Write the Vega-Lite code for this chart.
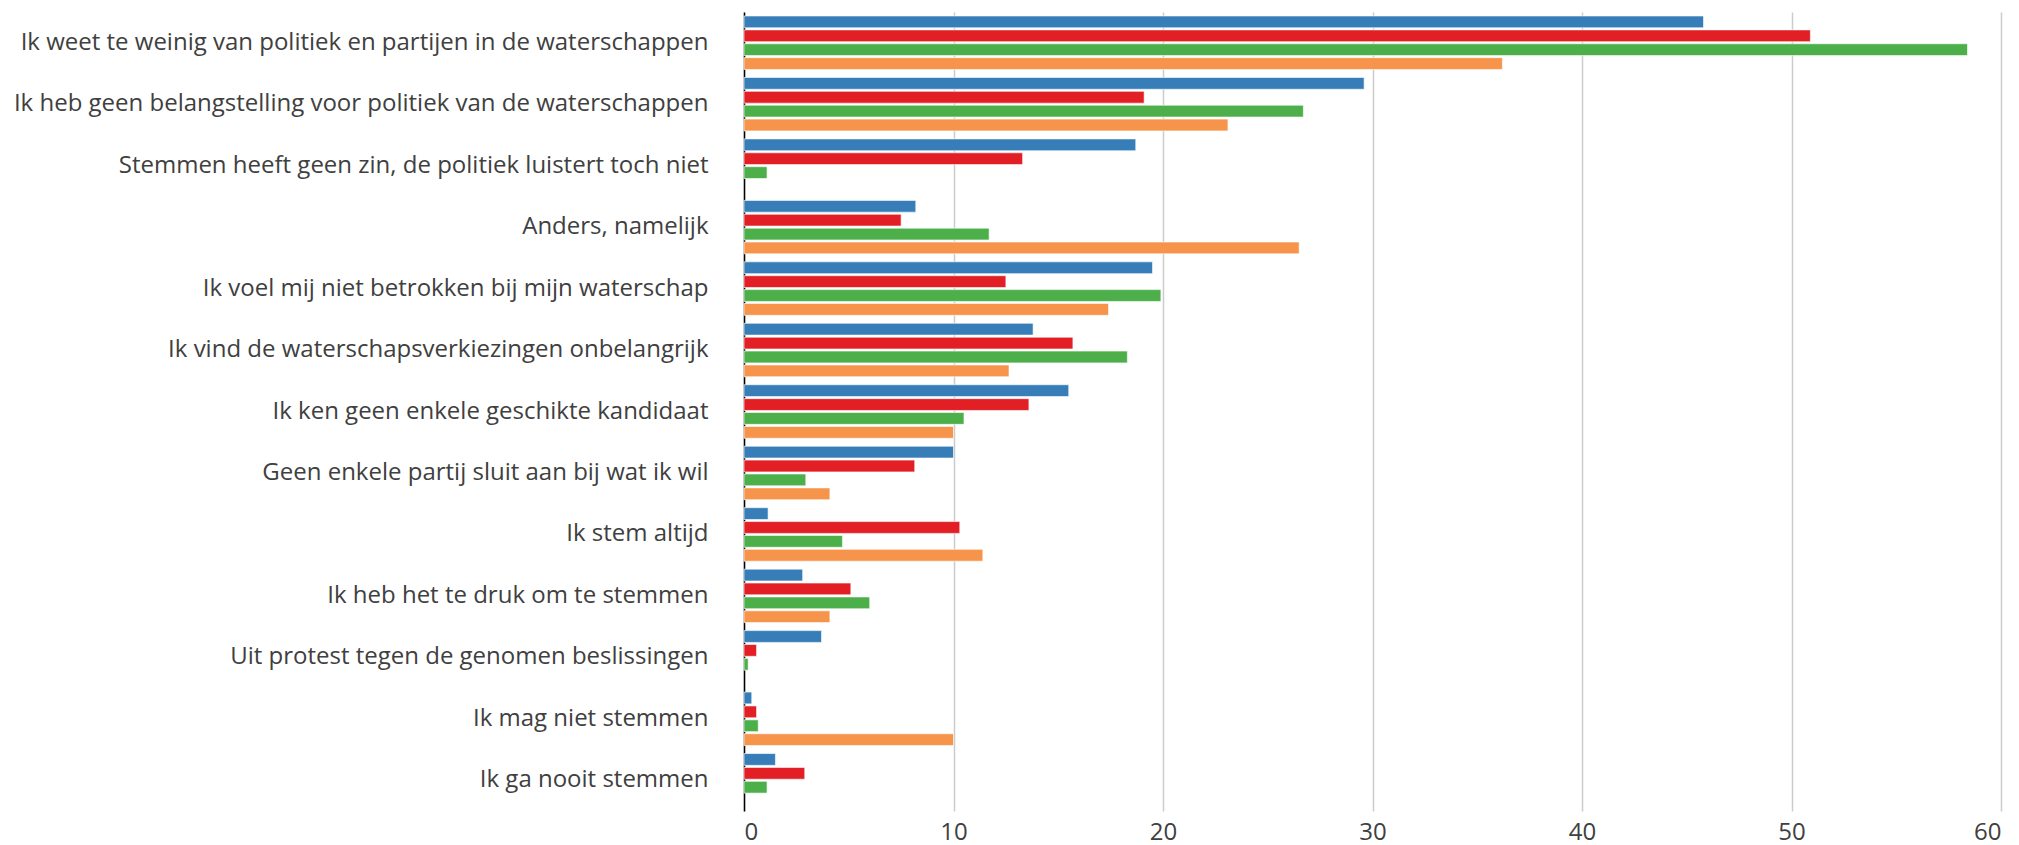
{
  "$schema": "https://vega.github.io/schema/vega-lite/v6.json",
  "description": "Redenen om niet te stemmen bij de waterschapsverkiezingen",
  "width": 1257,
  "height": 799,
  "autosize": "none",
  "padding": {"left": 744, "top": 12, "right": 18, "bottom": 34},
  "config": {"font": "Open Sans", "view": {"stroke": null}},
  "data": {
    "values": [
      {"reden": "Ik weet te weinig van politiek en partijen in de waterschappen", "groep": "Groep 1", "percentage": 45.8},
      {"reden": "Ik weet te weinig van politiek en partijen in de waterschappen", "groep": "Groep 2", "percentage": 50.9},
      {"reden": "Ik weet te weinig van politiek en partijen in de waterschappen", "groep": "Groep 3", "percentage": 58.4},
      {"reden": "Ik weet te weinig van politiek en partijen in de waterschappen", "groep": "Groep 4", "percentage": 36.2},
      {"reden": "Ik heb geen belangstelling voor politiek van de waterschappen", "groep": "Groep 1", "percentage": 29.6},
      {"reden": "Ik heb geen belangstelling voor politiek van de waterschappen", "groep": "Groep 2", "percentage": 19.1},
      {"reden": "Ik heb geen belangstelling voor politiek van de waterschappen", "groep": "Groep 3", "percentage": 26.7},
      {"reden": "Ik heb geen belangstelling voor politiek van de waterschappen", "groep": "Groep 4", "percentage": 23.1},
      {"reden": "Stemmen heeft geen zin, de politiek luistert toch niet", "groep": "Groep 1", "percentage": 18.7},
      {"reden": "Stemmen heeft geen zin, de politiek luistert toch niet", "groep": "Groep 2", "percentage": 13.3},
      {"reden": "Stemmen heeft geen zin, de politiek luistert toch niet", "groep": "Groep 3", "percentage": 1.1},
      {"reden": "Anders, namelijk", "groep": "Groep 1", "percentage": 8.2},
      {"reden": "Anders, namelijk", "groep": "Groep 2", "percentage": 7.5},
      {"reden": "Anders, namelijk", "groep": "Groep 3", "percentage": 11.7},
      {"reden": "Anders, namelijk", "groep": "Groep 4", "percentage": 26.5},
      {"reden": "Ik voel mij niet betrokken bij mijn waterschap", "groep": "Groep 1", "percentage": 19.5},
      {"reden": "Ik voel mij niet betrokken bij mijn waterschap", "groep": "Groep 2", "percentage": 12.5},
      {"reden": "Ik voel mij niet betrokken bij mijn waterschap", "groep": "Groep 3", "percentage": 19.9},
      {"reden": "Ik voel mij niet betrokken bij mijn waterschap", "groep": "Groep 4", "percentage": 17.4},
      {"reden": "Ik vind de waterschapsverkiezingen onbelangrijk", "groep": "Groep 1", "percentage": 13.8},
      {"reden": "Ik vind de waterschapsverkiezingen onbelangrijk", "groep": "Groep 2", "percentage": 15.7},
      {"reden": "Ik vind de waterschapsverkiezingen onbelangrijk", "groep": "Groep 3", "percentage": 18.3},
      {"reden": "Ik vind de waterschapsverkiezingen onbelangrijk", "groep": "Groep 4", "percentage": 12.65},
      {"reden": "Ik ken geen enkele geschikte kandidaat", "groep": "Groep 1", "percentage": 15.5},
      {"reden": "Ik ken geen enkele geschikte kandidaat", "groep": "Groep 2", "percentage": 13.6},
      {"reden": "Ik ken geen enkele geschikte kandidaat", "groep": "Groep 3", "percentage": 10.5},
      {"reden": "Ik ken geen enkele geschikte kandidaat", "groep": "Groep 4", "percentage": 10.0},
      {"reden": "Geen enkele partij sluit aan bij wat ik wil", "groep": "Groep 1", "percentage": 10.0},
      {"reden": "Geen enkele partij sluit aan bij wat ik wil", "groep": "Groep 2", "percentage": 8.15},
      {"reden": "Geen enkele partij sluit aan bij wat ik wil", "groep": "Groep 3", "percentage": 2.95},
      {"reden": "Geen enkele partij sluit aan bij wat ik wil", "groep": "Groep 4", "percentage": 4.1},
      {"reden": "Ik stem altijd", "groep": "Groep 1", "percentage": 1.15},
      {"reden": "Ik stem altijd", "groep": "Groep 2", "percentage": 10.3},
      {"reden": "Ik stem altijd", "groep": "Groep 3", "percentage": 4.7},
      {"reden": "Ik stem altijd", "groep": "Groep 4", "percentage": 11.4},
      {"reden": "Ik heb het te druk om te stemmen", "groep": "Groep 1", "percentage": 2.8},
      {"reden": "Ik heb het te druk om te stemmen", "groep": "Groep 2", "percentage": 5.1},
      {"reden": "Ik heb het te druk om te stemmen", "groep": "Groep 3", "percentage": 6.0},
      {"reden": "Ik heb het te druk om te stemmen", "groep": "Groep 4", "percentage": 4.1},
      {"reden": "Uit protest tegen de genomen beslissingen", "groep": "Groep 1", "percentage": 3.7},
      {"reden": "Uit protest tegen de genomen beslissingen", "groep": "Groep 2", "percentage": 0.6},
      {"reden": "Uit protest tegen de genomen beslissingen", "groep": "Groep 3", "percentage": 0.2},
      {"reden": "Ik mag niet stemmen", "groep": "Groep 1", "percentage": 0.37},
      {"reden": "Ik mag niet stemmen", "groep": "Groep 2", "percentage": 0.6},
      {"reden": "Ik mag niet stemmen", "groep": "Groep 3", "percentage": 0.68},
      {"reden": "Ik mag niet stemmen", "groep": "Groep 4", "percentage": 10.0},
      {"reden": "Ik ga nooit stemmen", "groep": "Groep 1", "percentage": 1.5},
      {"reden": "Ik ga nooit stemmen", "groep": "Groep 2", "percentage": 2.9},
      {"reden": "Ik ga nooit stemmen", "groep": "Groep 3", "percentage": 1.1}
    ]
  },
  "mark": {"type": "bar", "stroke": "white", "strokeOpacity": 0.6, "strokeWidth": 1},
  "encoding": {
    "y": {
      "field": "reden",
      "type": "nominal",
      "sort": null,
      "scale": {"paddingInner": 0.13, "paddingOuter": 0.065},
      "axis": {
        "title": null,
        "ticks": false,
        "domain": true,
        "domainColor": "#000000",
        "domainWidth": 1.5,
        "grid": false,
        "labelFont": "Open Sans",
        "labelFontSize": 24,
        "labelColor": "#404040",
        "labelPadding": 36,
        "labelLimit": 0
      }
    },
    "yOffset": {
      "field": "groep",
      "sort": null,
      "scale": {"paddingInner": 0.15, "paddingOuter": 0}
    },
    "x": {
      "field": "percentage",
      "type": "quantitative",
      "scale": {"domain": [0, 60], "nice": false},
      "axis": {
        "title": null,
        "tickCount": 6,
        "ticks": false,
        "domain": false,
        "grid": true,
        "gridColor": "#cccccc",
        "gridWidth": 1.5,
        "labelFont": "Open Sans",
        "labelFontSize": 24,
        "labelColor": "#404040",
        "labelPadding": 9
      }
    },
    "color": {
      "field": "groep",
      "type": "nominal",
      "sort": null,
      "scale": {
        "domain": ["Groep 1", "Groep 2", "Groep 3", "Groep 4"],
        "range": ["#377eb8", "#e31f26", "#4daf4a", "#f7944b"]
      },
      "legend": null
    }
  }
}
